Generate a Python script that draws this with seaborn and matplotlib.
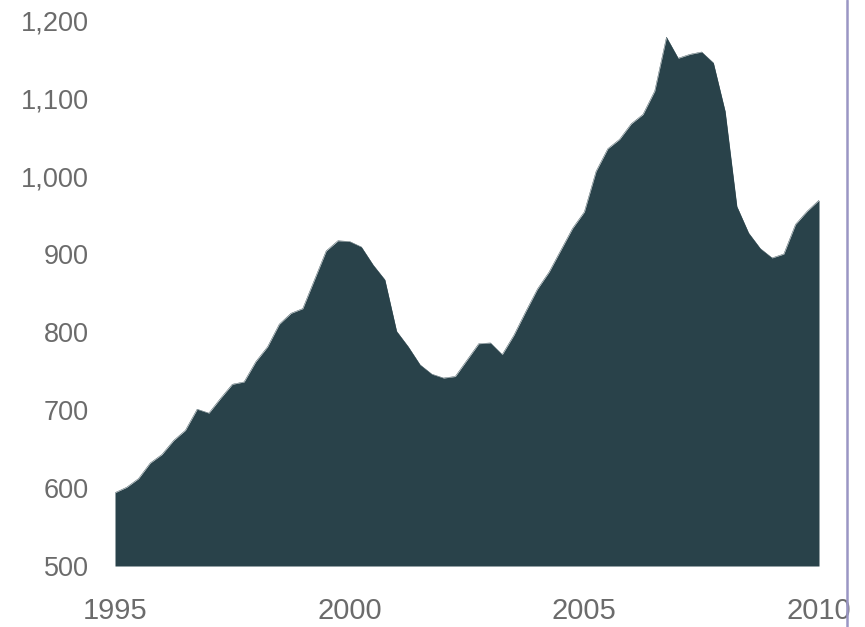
import numpy as np
import pandas as pd
import matplotlib
matplotlib.use("Agg")
import matplotlib.pyplot as plt
from matplotlib.lines import Line2D
from matplotlib.ticker import FuncFormatter
import seaborn as sns

# quarterly values, 1995 Q1 .. 2010 Q1
values = [594, 601, 612, 632, 643, 661, 674, 701, 696, 715,
          733, 736, 762, 781, 810, 824, 830, 867, 904, 917,
          916, 909, 886, 867, 801, 781, 758, 746, 741, 743,
          764, 785, 786, 771, 796, 826, 855, 877, 905, 933,
          954, 1006, 1035, 1047, 1067, 1079, 1109, 1178, 1151, 1156,
          1159, 1145, 1083, 961, 927, 907, 895, 900, 938, 955,
          969]
start_year = 1995
x_ticks = [1995, 2000, 2005, 2010]
y_ticks = [500, 600, 700, 800, 900, 1000, 1100, 1200]

df = pd.DataFrame({"year": start_year + np.arange(len(values)) / 4,
                   "value": values})

sns.set_theme(style="white")
plt.rcParams['font.family'] = ['Liberation Sans', 'DejaVu Sans']

fig = plt.figure(figsize=(8.65, 6.27), dpi=100)
ax = fig.add_axes([115 / 865, 61 / 627, 704 / 865, 546 / 627])

fill_col = "#29424a"
sns.lineplot(data=df, x="year", y="value", ax=ax, color=fill_col, linewidth=0.3)
ax.fill_between(df["year"], df["value"], 500, color=fill_col, linewidth=0)

ax.set_xlim(1995, 2010)
ax.set_ylim(500, 1200)
ax.set_xticks(x_ticks)
ax.set_yticks(y_ticks)
ax.yaxis.set_major_formatter(FuncFormatter(lambda v, p: f"{int(v):,}"))
ax.set_xlabel("")
ax.set_ylabel("")

txt = "#6b6b6b"
ax.tick_params(axis="y", labelsize=19.5, colors=txt, pad=19, length=0)
ax.tick_params(axis="x", labelsize=21, colors=txt, pad=22, length=0)
for s in ax.spines.values():
    s.set_visible(False)

# thin divider on the right edge
fig.add_artist(Line2D([847 / 865, 847 / 865], [0, 1], transform=fig.transFigure,
                      color="#9a96c4", linewidth=1.8))

fig.savefig("out.png", dpi=100)
